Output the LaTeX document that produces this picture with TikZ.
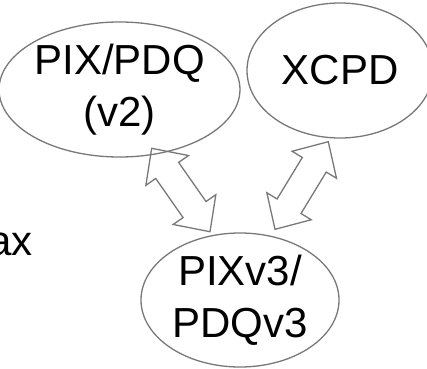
\documentclass[tikz,border=0pt]{standalone}
\usepackage{fontspec}
\setmainfont{Liberation Sans}
\usetikzlibrary{shapes.geometric,calc}

\definecolor{linegray}{HTML}{787878}

% hollow block arrow with a head at both ends, tip to tip
\newcommand{\bothways}[2]{%
    \coordinate (#1h) at ($(#1)!27pt!(#2)$);
    \coordinate (#2h) at ($(#2)!27pt!(#1)$);
    \draw[arrow_style] (#1)
        -- ($(#1h)!26pt!90:(#2)$) -- ($(#1h)!14pt!90:(#2)$)
        -- ($(#2h)!14pt!-90:(#1)$) -- ($(#2h)!26pt!-90:(#1)$)
        -- (#2)
        -- ($(#2h)!26pt!90:(#1)$) -- ($(#2h)!14pt!90:(#1)$)
        -- ($(#1h)!14pt!-90:(#2)$) -- ($(#1h)!26pt!-90:(#2)$)
        -- cycle;}

\begin{document}
\begin{tikzpicture}[x=1pt, y=1pt,
    big_text/.style = {font=\fontsize{42}{52}\selectfont},
    ellipse_style/.style = {draw=linegray, line width=1.3pt, ellipse,
        inner sep=0pt, align=center, big_text},
    arrow_style/.style = {draw=linegray, line width=1.3pt, line join=miter}]

\useasboundingbox (0,0) rectangle (427,368);
\clip (0,0) rectangle (427,368);

% old version
\node[ellipse_style, minimum width=197pt, minimum height=135pt] (1)
    at (119.5,278.5) {PIX/PDQ\\(v2)};

% cross-community
\node[ellipse_style, minimum width=186pt, minimum height=135pt] (2)
    at (340,297.5) {XCPD};

% new version
\node[ellipse_style, minimum width=198pt, minimum height=134pt] (3)
    at (240,68) {PIXv3/\\PDQv3};

% leftover word at the edge
\node[big_text, anchor=base east, inner sep=0pt] (4) at (33,113) {ax};

% arrow ends
\coordinate (1a) at (151.7,219.7);
\coordinate (3a) at (210,136.3);
\coordinate (2a) at (328.3,226.3);
\coordinate (3b) at (275,138.7);

% v2 <-> v3
\bothways{1a}{3a}

% XCPD <-> v3
\bothways{2a}{3b}

\end{tikzpicture}
\end{document}
